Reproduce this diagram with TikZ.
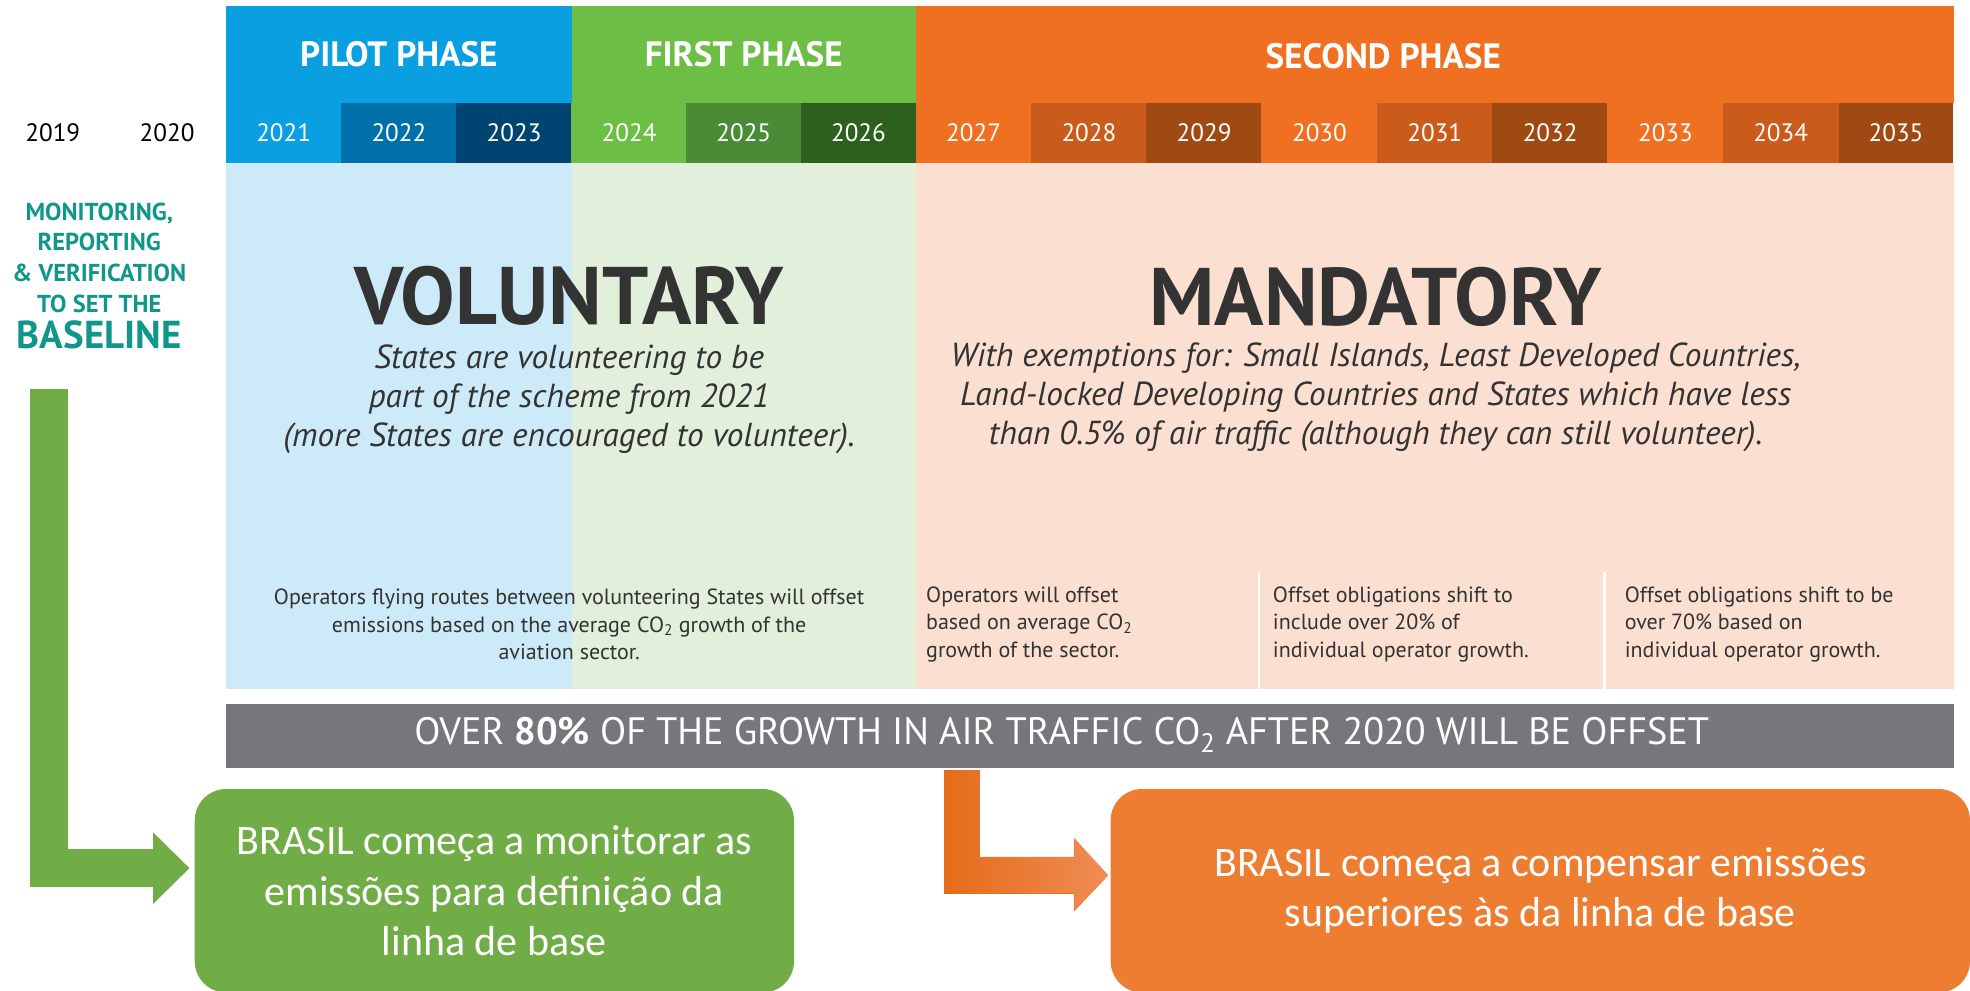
\documentclass[tikz,border=0pt]{standalone}
\usepackage{fontspec}
\setmainfont{PT Sans}
\newfontfamily\boxfont{Carlito}
\usetikzlibrary{arrows.meta}

\definecolor{pilotblue}{HTML}{0A9FE0}
\definecolor{pilotmid}{HTML}{0070AA}
\definecolor{pilotdark}{HTML}{004572}
\definecolor{firstgreen}{HTML}{6CBE45}
\definecolor{firstmid}{HTML}{4A8B36}
\definecolor{firstdark}{HTML}{2D5F1E}
\definecolor{secondorange}{HTML}{F07022}
\definecolor{secondmid}{HTML}{CB5B1B}
\definecolor{seconddark}{HTML}{9E4A12}
\definecolor{lightblue}{HTML}{CCEAF8}
\definecolor{lightgreen}{HTML}{E2EFDA}
\definecolor{lightorange}{HTML}{FBE0D2}
\definecolor{barfill}{HTML}{77767B}
\definecolor{darktext}{HTML}{333333}
\definecolor{teal}{HTML}{11968C}
\definecolor{boxgreen}{HTML}{70AD47}
\definecolor{boxorange}{HTML}{ED7D31}
\definecolor{arrowdark}{HTML}{E46C1A}
\definecolor{arrowlight}{HTML}{F08C55}

\newcommand{\cotwo}{CO\textsubscript{2}}

\begin{document}
\begin{tikzpicture}[x=1pt,y=-1pt,
    phase/.style={rectangle,inner sep=0pt,minimum height=77pt,text=white,font=\fontsize{28}{30}\selectfont\bfseries},
    yearcell/.style={rectangle,inner sep=0pt,minimum width=92.3pt,minimum height=48pt,text=white,font=\fontsize{20}{22}\selectfont},
    smalltext/.style={inner sep=0pt,text=darktext,font=\fontsize{17.5}{22}\selectfont},
    bigword/.style={inner sep=0pt,text=darktext,font=\fontsize{65}{68}\selectfont\bfseries},
    subtext/.style={inner sep=0pt,text=darktext,align=center,font=\fontsize{26.5}{31}\selectfont\itshape},
    brbox/.style={rectangle,rounded corners=25pt,inner sep=0pt,minimum height=162pt,text=white,align=center,font=\boxfont\fontsize{33.4}{40}\selectfont}]
  \useasboundingbox (0,0) rectangle (1568,788);

  % body
  \fill[lightblue] (180,130) rectangle (455,548);
  \fill[lightgreen] (455,130) rectangle (729,548);
  \fill[lightorange] (729,130) rectangle (1555,548);
  \draw[white,line width=2pt] (1002,455) -- (1002,548);
  \draw[white,line width=2pt] (1277,455) -- (1277,548);

  % phases
  \node[phase,fill=pilotblue,minimum width=275pt] (pilot) at (317.5,43.5) {PILOT PHASE};
  \node[phase,fill=firstgreen,minimum width=274pt] (first) at (592,43.5) {FIRST PHASE};
  \node[phase,fill=secondorange,minimum width=826pt] (second) at (1142,43.5) {};
  \node[text=white,font=\fontsize{28}{30}\selectfont\bfseries] (secondlbl) at (1101,45) {SECOND PHASE};

  % years
  \node[font=\fontsize{20}{22}\selectfont] (y2019) at (42,106) {2019};
  \node[font=\fontsize{20}{22}\selectfont] (y2020) at (133,106) {2020};
  \node[yearcell,fill=pilotblue] (y2021) at (225.8,106) {2021};
  \node[yearcell,fill=pilotmid] (y2022) at (317.5,106) {2022};
  \node[yearcell,fill=pilotdark] (y2023) at (409.2,106) {2023};
  \node[yearcell,fill=firstgreen] (y2024) at (500.7,106) {2024};
  \node[yearcell,fill=firstmid] (y2025) at (592,106) {2025};
  \node[yearcell,fill=firstdark] (y2026) at (683.3,106) {2026};
  \node[yearcell,fill=secondorange] (y2027) at (774.9,106) {2027};
  \node[yearcell,fill=secondmid] (y2028) at (866.7,106) {2028};
  \node[yearcell,fill=seconddark] (y2029) at (958.4,106) {2029};
  \node[yearcell,fill=secondorange] (y2030) at (1050.2,106) {2030};
  \node[yearcell,fill=secondmid] (y2031) at (1142,106) {2031};
  \node[yearcell,fill=seconddark] (y2032) at (1233.8,106) {2032};
  \node[yearcell,fill=secondorange] (y2033) at (1325.6,106) {2033};
  \node[yearcell,fill=secondmid] (y2034) at (1417.3,106) {2034};
  \node[yearcell,fill=seconddark,minimum width=91pt] (y2035) at (1509.1,106) {2035};

  % baseline text
  \node[anchor=north,inner sep=0pt,align=center,text=teal,font=\fontsize{19.5}{24.5}\selectfont\bfseries] (mrv) at (79,161)
    {MONITORING,\\REPORTING\\\&~VERIFICATION\\TO SET THE\\[4pt]{\fontsize{31}{32}\selectfont BASELINE}};

  % voluntary / mandatory
  \node[bigword] (voluntary) at (453,235.5) {VOLUNTARY};
  \node[subtext] (voltext) at (453,318)
    {States are volunteering to be\\part of the scheme from 2021\\(more States are encouraged to volunteer).};
  \node[bigword] (mandatory) at (1095,236) {MANDATORY};
  \node[subtext] (mandtext) at (1095,316.5)
    {With exemptions for: Small Islands, Least Developed Countries,\\Land-locked Developing Countries and States which have less\\than 0.5\% of air traffic (although they can still volunteer).};

  % operator notes
  \node[smalltext,align=center] (note1) at (453,497)
    {Operators flying routes between volunteering States will offset\\emissions based on the average \cotwo{} growth of the\\aviation sector.};
  \node[smalltext,align=left,anchor=west] (note2) at (737,497)
    {Operators will offset\\based on average \cotwo\\growth of the sector.};
  \node[smalltext,align=left,anchor=west] (note3) at (1013,497)
    {Offset obligations shift to\\include over 20\% of\\individual operator growth.};
  \node[smalltext,align=left,anchor=west] (note4) at (1293,497)
    {Offset obligations shift to be\\over 70\% based on\\individual operator growth.};

  % grey bar
  \fill[barfill] (180,560) rectangle (1555,611);
  \node[text=white,font=\fontsize{30.4}{32}\selectfont] (offset) at (845,585)
    {OVER \textbf{80\%} OF THE GROWTH IN AIR TRAFFIC \cotwo{} AFTER 2020 WILL BE OFFSET};

  % brasil boxes
  \node[brbox,fill=boxgreen,minimum width=477pt] (gbox) at (393.5,709)
    {BRASIL começa a monitorar as\\emissões para definição da\\linha de base};
  \node[brbox,fill=boxorange,minimum width=684pt] (obox) at (1226,709)
    {BRASIL começa a compensar emissões\\superiores às da linha de base};

  % arrows
  \coordinate (gtop) at (39,310);
  \draw[boxgreen,line width=30pt,-{Triangle[width=57pt,length=29pt,line width=0pt]}]
    (gtop) |- ([xshift=-4pt,yshift=18pt]gbox.west);
  \coordinate (otop) at (766,613);
  \draw[arrowdark,line width=28.5pt,-{Triangle[width=57pt,length=27pt,line width=0pt]}]
    (otop) |- ([xshift=-2pt,yshift=12pt]obox.west);
  \shade[left color=arrowdark,right color=arrowlight]
    (752,613) -- (780,613) -- (780,682) -- (855,682) -- (855,667) -- (882,696.5)
    -- (855,725) -- (855,711) -- (752,711) -- cycle;
\end{tikzpicture}
\end{document}
